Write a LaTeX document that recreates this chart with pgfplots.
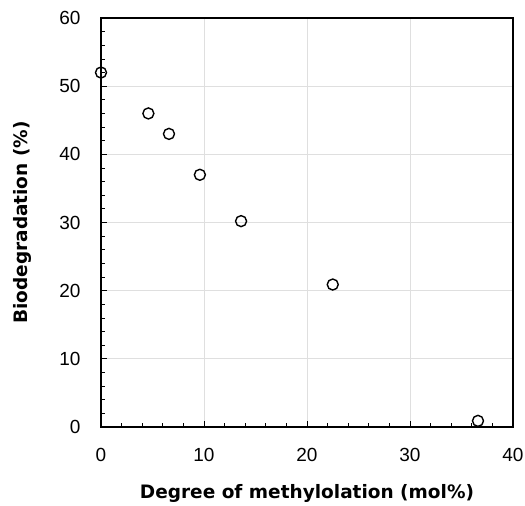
\documentclass[border=0pt]{standalone}
\usepackage{pgfplots}
\pgfplotsset{compat=1.18}
\usepackage{fontspec}
\setmainfont{Liberation Sans}
\newfontfamily\labfont{DejaVu Sans}
\begin{document}
\begin{tikzpicture}
\path[use as bounding box] (-101pt,-79pt) rectangle (424pt,427pt);
\begin{axis}[
  at={(0pt,0pt)}, anchor=south west,
  scale only axis, width=412pt, height=409pt,
  xmin=0, xmax=40, ymin=0, ymax=60,
  xtick={0,10,20,30,40}, ytick={0,10,20,30,40,50,60},
  minor x tick num=4, minor y tick num=4,
  tick align=inside, tick pos=left,
  major tick length=6pt, minor tick length=4pt,
  tick style={black, line width=0.8pt},
  grid=major, major grid style={gray!25, line width=0.8pt},
  axis line style={black, line width=1.3pt},
  /pgf/number format/assume math mode=true,
  tick label style={font=\fontsize{19}{21}\selectfont},
  xticklabel style={yshift=-18pt},
  yticklabel style={xshift=-17pt},
  xlabel={\labfont\bfseries Degree of methylolation (mol\%)},
  ylabel={\labfont\bfseries Biodegradation (\%)},
  label style={font=\fontsize{18.5}{21}\selectfont},
  xlabel style={at={(axis description cs:0.5,0)}, anchor=base, yshift=-72pt},
  ylabel style={at={(axis description cs:0,0.5)}, anchor=center, yshift=79pt},
  clip=false,
]
\addplot[only marks, mark=o, mark size=5.5pt, mark options={line width=1.4pt, black}] coordinates {
(0,52) (4.6,46) (6.6,43) (9.6,37) (13.6,30.2) (22.5,20.9) (36.6,0.9)
};
\end{axis}
\end{tikzpicture}
\end{document}
